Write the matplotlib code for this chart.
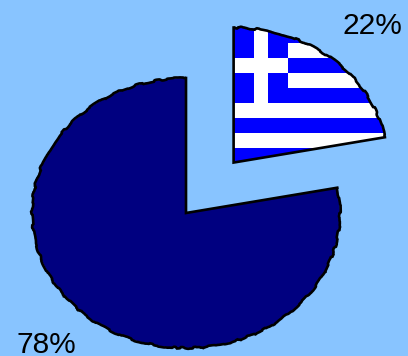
"""
plot.py
-------
Two-slice exploded pie, with the small slice filled by the Greek flag.
"""

import numpy as np
import matplotlib
matplotlib.use("Agg")
import matplotlib.pyplot as plt
import matplotlib.patches as patches

# =============================================================================
# DATA
# =============================================================================

SHARES = [78, 22]
EXPLODE = [0, 0.485]
SHARE_LABELS = ["78%", "22%"]

# Flag layout, in stripes and in fractions of the pie radius
FLAG_ROWS = 9
FLAG_WHITE_ROWS = [1, 3, 5, 7]
CANTON_ROWS = 5
CANTON_WIDTH = 0.35
CROSS_ROW = 2
CROSS_COLUMN = (0.135, 0.226)

# =============================================================================
# STYLE
# =============================================================================

BACKGROUND = "#88C4FF"
NAVY = "#000080"
BLUE = "#0000FF"
OUTLINE_WIDTH = 1.9

plt.rcParams["font.family"] = ["Liberation Sans", "DejaVu Sans"]

fig = plt.figure(figsize=(4.08, 3.56), dpi=100, facecolor=BACKGROUND)
ax = fig.add_axes([0, 0, 1, 1])

wedges, _ = ax.pie(
    SHARES,
    explode=EXPLODE,
    startangle=90,
    colors=[NAVY, "none"],
    wedgeprops=dict(edgecolor="none"),
)

# The pie is stretched wider than tall, so the aspect is released here
ax.set_aspect("auto")
ax.set_xlim(-186 / 154, (408 - 186) / 154)
ax.set_ylim(-(356 - 213) / 135, 213 / 135)
ax.axis("off")

# ── Flag, clipped to the exploded slice ───────────────────────────────
flag_wedge = wedges[1]
cx, cy = flag_wedge.center
row_h = flag_wedge.r / FLAG_ROWS


def flag_bar(row, n_rows, left, width, color):
    y_top = cy + flag_wedge.r - row * row_h
    bars = ax.barh(y_top, width, height=-n_rows * row_h, left=cx + left,
                   align="edge", color=color, linewidth=0, zorder=2)
    for bar in bars:
        bar.set_clip_path(flag_wedge)


flag_bar(0, FLAG_ROWS, 0, 1.1, BLUE)
for row in FLAG_WHITE_ROWS:
    flag_bar(row, 1, 0, 1.1, "white")
flag_bar(0, CANTON_ROWS, 0, CANTON_WIDTH, BLUE)
flag_bar(CROSS_ROW, 1, 0, CANTON_WIDTH, "white")
flag_bar(0, CANTON_ROWS, CROSS_COLUMN[0], CROSS_COLUMN[1] - CROSS_COLUMN[0], "white")

# ── Outlines: straight radii, slightly rough arcs ─────────────────────
for wedge in wedges:
    cx, cy = wedge.center
    arc = patches.Arc(
        (cx, cy), 2 * wedge.r, 2 * wedge.r,
        theta1=wedge.theta1, theta2=wedge.theta2,
        edgecolor="black", linewidth=OUTLINE_WIDTH, zorder=3,
    )
    arc.set_sketch_params(scale=0.9, length=70, randomness=20)
    ax.add_patch(arc)

    angles = np.radians([wedge.theta1, wedge.theta2])
    ax.plot(
        [cx + wedge.r * np.cos(angles[0]), cx, cx + wedge.r * np.cos(angles[1])],
        [cy + wedge.r * np.sin(angles[0]), cy, cy + wedge.r * np.sin(angles[1])],
        color="black", linewidth=OUTLINE_WIDTH, solid_joinstyle="miter", zorder=3,
    )

# ── Share labels ──────────────────────────────────────────────────────
fig.text(46 / 408, 1 - 345 / 356, SHARE_LABELS[0], fontsize=21.5,
         ha="center", va="center", color="black")
fig.text(372 / 408, 1 - 26 / 356, SHARE_LABELS[1], fontsize=21.5,
         ha="center", va="center", color="black")

fig.savefig("out.png", dpi=100, facecolor=BACKGROUND)
